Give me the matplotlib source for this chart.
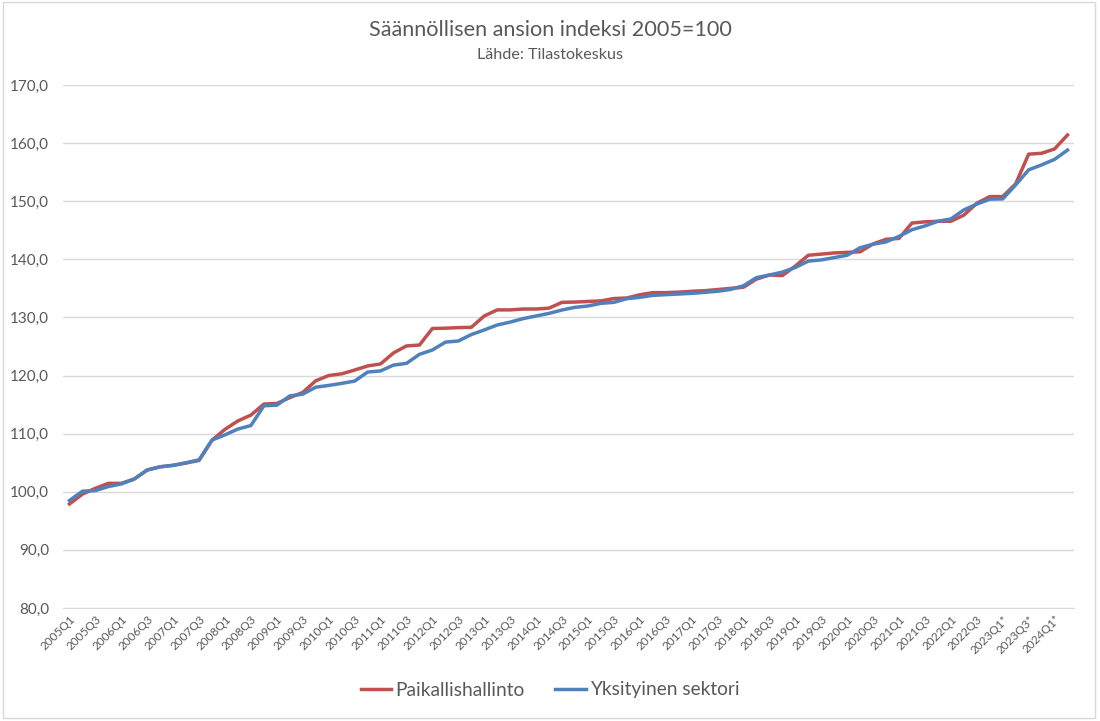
import matplotlib
matplotlib.use("Agg")
import matplotlib.pyplot as plt
from matplotlib.patches import Rectangle

years = list(range(2005, 2025))
quarters = ["Q1", "Q2", "Q3", "Q4"]
categories = [f"{y}{q}" + ("*" if y >= 2023 else "") for y in years for q in quarters][:78]

paikallishallinto = [97.9, 99.6, 100.6, 101.45, 101.45, 102.2, 103.75, 104.3, 104.55, 104.95,
                     105.4, 108.9, 110.75, 112.2, 113.2, 115.1, 115.2, 116.2, 117.1, 119.1,
                     120.0, 120.3, 120.95, 121.65, 122.0, 123.9, 125.1, 125.25, 128.1, 128.15,
                     128.25, 128.3, 130.25, 131.3, 131.3, 131.45, 131.45, 131.6, 132.6, 132.65,
                     132.75, 132.85, 133.25, 133.35, 133.9, 134.27, 134.27, 134.35, 134.5, 134.6,
                     134.8, 135.0, 135.2, 136.6, 137.3, 137.2, 138.85, 140.7, 140.9, 141.1,
                     141.2, 141.3, 142.65, 143.45, 143.6, 146.25, 146.45, 146.55, 146.55, 147.6,
                     149.65, 150.8, 150.8, 153.0, 158.1, 158.25, 159.0, 161.4]
yksityinen = [98.5, 100.1, 100.2, 100.9, 101.35, 102.2, 103.75, 104.3, 104.55, 105.0,
              105.5, 108.9, 109.8, 110.8, 111.4, 114.8, 114.9, 116.5, 116.8, 118.0,
              118.3, 118.65, 119.05, 120.6, 120.8, 121.8, 122.1, 123.65, 124.4, 125.75,
              125.95, 127.05, 127.85, 128.7, 129.2, 129.8, 130.25, 130.7, 131.28, 131.74,
              131.97, 132.43, 132.6, 133.23, 133.46, 133.8, 133.92, 134.03, 134.15, 134.32,
              134.5, 134.82, 135.45, 136.85, 137.3, 137.8, 138.6, 139.7, 139.9, 140.3,
              140.7, 142.0, 142.6, 143.0, 143.95, 145.1, 145.75, 146.55, 146.95, 148.5,
              149.5, 150.35, 150.4, 152.8, 155.4, 156.25, 157.2, 158.8]
yticks = [80, 90, 100, 110, 120, 130, 140, 150, 160, 170]

plt.rcParams['font.family'] = ['Lato', 'DejaVu Sans']
txt = "#595959"

fig = plt.figure(figsize=(11, 7.21), dpi=100)
ax = fig.add_axes([63/1100, 1-608/721, (1074-63)/1100, (608-85)/721])

x = list(range(len(categories)))
ax.plot(x, paikallishallinto, color="#C0504D", lw=2.5, label="Paikallishallinto", solid_joinstyle="round")
ax.plot(x, yksityinen, color="#4F81BD", lw=2.5, label="Yksityinen sektori", solid_joinstyle="round")

ax.set_xlim(-0.5, len(categories) - 0.5)
ax.set_ylim(80, 170)
ax.set_yticks(yticks)
ax.set_yticklabels([f"{v:.1f}".replace(".", ",") for v in yticks], color=txt, fontsize=11)
ax.set_xticks(x[::2])
ax.set_xticklabels(categories[::2], rotation=45, ha="right", va="top",
                   rotation_mode="anchor", color=txt, fontsize=8.5)
ax.tick_params(axis="both", length=0)
ax.tick_params(axis="y", pad=10)
ax.tick_params(axis="x", pad=4)
ax.grid(axis="y", color="#D9D9D9", lw=1)
ax.set_axisbelow(True)
for s in ["top", "right", "left"]:
    ax.spines[s].set_visible(False)
ax.spines["bottom"].set_color("#D9D9D9")

fig.text(0.5, 1-30/721, "Säännöllisen ansion indeksi 2005=100", ha="center", va="center",
         fontsize=15.6, color=txt)
fig.text(0.5, 1-55/721, "Lähde: Tilastokeskus", ha="center", va="center",
         fontsize=11.6, color=txt)

fig.legend(loc="center", bbox_to_anchor=(0.5, 1-690/721), ncol=2, frameon=False,
           fontsize=13.8, labelcolor=txt, handlelength=1.6, columnspacing=1.6, handletextpad=0.2)

fig.patches.append(Rectangle((3/1100, 3/721), 1092/1100, 716/721, transform=fig.transFigure,
                             fill=False, edgecolor="#D9D9D9", lw=1))

fig.savefig("out.png", dpi=100, facecolor="white")
